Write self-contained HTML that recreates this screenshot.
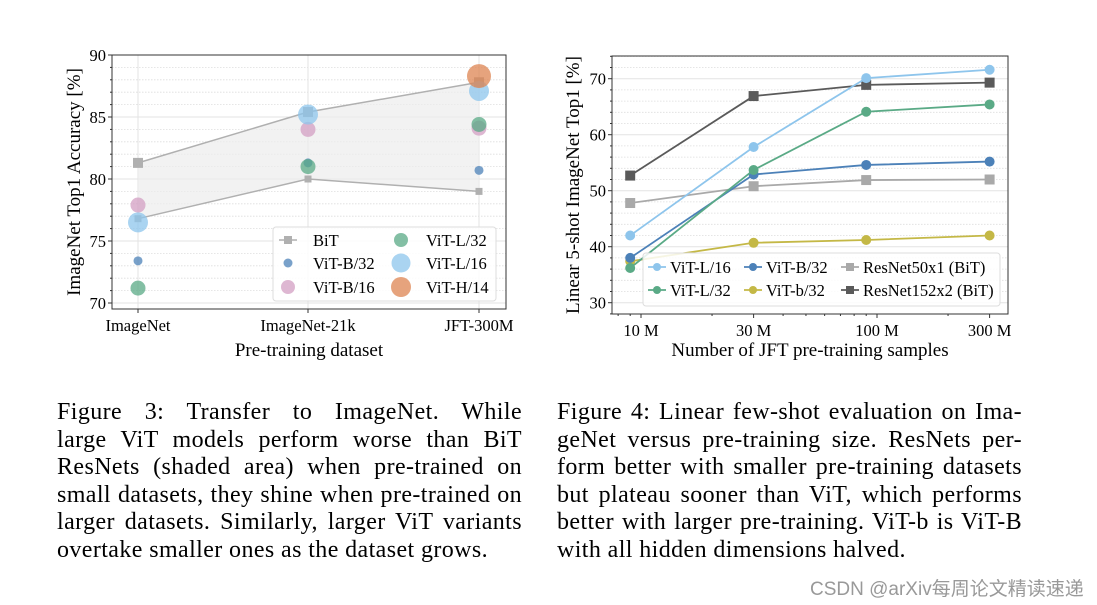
<!DOCTYPE html>
<html><head><meta charset="utf-8"><style>
body{margin:0;background:#fff;width:1097px;height:605px;overflow:hidden;position:relative;font-family:"Liberation Serif",serif}
.cap{position:absolute;font-size:24px;letter-spacing:0.4px;line-height:27.5px;color:#000}
.cap div{text-align:justify;text-align-last:justify;white-space:nowrap;height:27.5px}
.cap div.last{text-align-last:left}
#wm{position:absolute;left:810px;top:574px;font:19px "Liberation Sans","Noto Sans CJK SC",sans-serif;color:#999;white-space:nowrap}
</style></head><body>
<svg id="svg" width="1097" height="390" style="position:absolute;left:0;top:0" font-family="Liberation Serif, serif"></svg>

<div class="cap" style="left:57px;top:399px;width:465px">
<div>Figure 3:  Transfer to ImageNet.  While</div>
<div>large ViT models perform worse than BiT</div>
<div>ResNets (shaded area) when pre-trained on</div>
<div>small datasets, they shine when pre-trained on</div>
<div>larger datasets.  Similarly, larger ViT variants</div>
<div class="last">overtake smaller ones as the dataset grows.</div>
</div>
<div class="cap" style="left:557px;top:399px;width:465px">
<div>Figure 4: Linear few-shot evaluation on Ima-</div>
<div>geNet versus pre-training size.  ResNets per-</div>
<div>form better with smaller pre-training datasets</div>
<div>but plateau sooner than ViT, which performs</div>
<div>better with larger pre-training. ViT-b is ViT-B</div>
<div class="last">with all hidden dimensions halved.</div>
</div>
<div id="wm">CSDN @arXiv每周论文精读速递</div>

<script>
// ---- Chart 1 data ----
const c1Categories = ["ImageNet","ImageNet-21k","JFT-300M"];
const c1BitUpper = [81.3, 85.4, 87.8];
const c1BitLower = [76.8, 80.0, 79.0];
const c1VitB32 = [73.4, 81.3, 80.7];
const c1VitB16 = [77.9, 84.0, 84.1];
const c1VitL32 = [71.2, 81.0, 84.4];
const c1VitL16 = [76.5, 85.2, 87.1];
const c1VitH14 = [null, null, 88.3];
const c1YTicks = [70, 75, 80, 85, 90];
// ---- Chart 2 data ----
const c2Samples = [9, 30, 90, 300];
const c2XTicks = [10, 30, 100, 300];
const c2XTickLabels = ["10 M","30 M","100 M","300 M"];
const c2YTicks = [30, 40, 50, 60, 70];
const c2VitL16 = [42.0, 57.8, 70.1, 71.6];
const c2VitL32 = [36.2, 53.7, 64.1, 65.4];
const c2VitB32 = [38.0, 52.9, 54.6, 55.2];
const c2Vitb32 = [37.4, 40.7, 41.2, 42.0];
const c2R50 = [47.8, 50.8, 51.9, 52.0];
const c2R152 = [52.7, 66.9, 68.9, 69.3];

const NS="http://www.w3.org/2000/svg";
const svg=document.getElementById('svg');
function mk(tag,attrs,parent,text){const e=document.createElementNS(NS,tag);for(const k in attrs)e.setAttribute(k,attrs[k]);if(text!==undefined)e.textContent=text;(parent||svg).appendChild(e);return e;}
const TF=16.5, AF=19, LF=16.5;

// ===== Chart 1 =====
const g1=mk('g',{});


const L1=112,R1=506,T1=55,B1=309;
const y1=v=>55+(90-v)*12.4;
const x1=i=>[138,308,479][i];
for(let v=70;v<=90;v++){if(v%5)mk('line',{x1:L1,x2:R1,y1:y1(v),y2:y1(v),stroke:'#ddd','stroke-width':0.8,'stroke-dasharray':'1.5,1.5'},g1);}
c1YTicks.forEach(v=>{mk('line',{x1:L1,x2:R1,y1:y1(v),y2:y1(v),stroke:'#e3e3e3','stroke-width':1},g1);});
c1Categories.forEach((c,i)=>mk('line',{x1:x1(i),x2:x1(i),y1:T1,y2:B1,stroke:'#e3e3e3'},g1));
let pts=c1BitUpper.map((v,i)=>x1(i)+','+y1(v)).concat(c1BitLower.map((v,i)=>x1(i)+','+y1(v)).reverse());
const sh=mk('polygon',{points:pts.join(' '),fill:'#ececec','fill-opacity':0.7},g1);


[c1BitUpper,c1BitLower].forEach((arr,k)=>{
  const pl=mk('polyline',{points:arr.map((v,i)=>x1(i)+','+y1(v)).join(' '),fill:'none',stroke:'#b0b0b0','stroke-width':1.5},g1);
  
  
  arr.forEach((v,i)=>{const s=k?3.5:5;mk('rect',{x:x1(i)-s,y:y1(v)-s,width:2*s,height:2*s,fill:'#b0b0b0'},g1);});
});
const c1Series=[[c1VitB32,'#4c81b8',4.5,'vit-b32'],[c1VitB16,'#d39fc3',7.5,'vit-b16'],[c1VitL32,'#5aaa86',7.5,'vit-l32'],[c1VitL16,'#8ec5ec',10,'vit-l16'],[c1VitH14,'#dd8452',12,'vit-h14']];
c1Series.forEach(([arr,col,r,nm])=>arr.forEach((v,i)=>{if(v==null)return;const c=mk('circle',{cx:x1(i),cy:y1(v),r:r,fill:col,'fill-opacity':0.75},g1);
  
  }));
mk('rect',{x:L1,y:T1,width:R1-L1,height:B1-T1,fill:'none',stroke:'#333','stroke-width':1},g1);
c1YTicks.forEach(v=>{mk('line',{x1:L1-4,x2:L1,y1:y1(v),y2:y1(v),stroke:'#333'},g1);mk('text',{x:L1-6,y:y1(v)+6,'text-anchor':'end','font-size':TF},g1,v);});
for(let v=70;v<=90;v++){if(v%5)mk('line',{x1:L1-2,x2:L1,y1:y1(v),y2:y1(v),stroke:'#333'},g1);}
c1Categories.forEach((c,i)=>{mk('line',{x1:x1(i),x2:x1(i),y1:B1,y2:B1+4,stroke:'#333'},g1);mk('text',{x:x1(i),y:B1+22,'text-anchor':'middle','font-size':TF},g1,c);});
mk('text',{x:309,y:356,'text-anchor':'middle','font-size':AF},g1,'Pre-training dataset');
mk('text',{transform:'translate(80,182) rotate(-90)','text-anchor':'middle','font-size':AF},g1,'ImageNet Top1 Accuracy [%]');
const lg1=mk('g',{},g1);


mk('rect',{x:273,y:227,width:223,height:74,rx:3,fill:'#fff','fill-opacity':0.85,stroke:'#ddd'},lg1);
mk('line',{x1:279,x2:297,y1:240,y2:240,stroke:'#b0b0b0','stroke-width':1.5},lg1);
mk('rect',{x:284,y:236,width:8,height:8,fill:'#b0b0b0'},lg1);
mk('text',{x:313,y:246,'font-size':LF},lg1,'BiT');
const lgItems=[[292,263,4.5,'#4c81b8','ViT-B/32'],[292,287,7,'#d39fc3','ViT-B/16'],[405,240,7,'#5aaa86','ViT-L/32'],[405,263,9.5,'#8ec5ec','ViT-L/16'],[405,287,10,'#dd8452','ViT-H/14']];
lgItems.forEach(([cx,cy,r,col,t])=>{mk('circle',{cx:cx-4,cy:cy,r:r,fill:col,'fill-opacity':0.75},lg1);mk('text',{x:cx+21,y:cy+6,'font-size':LF},lg1,t);});

// ===== Chart 2 =====
const g2=mk('g',{});


const L2=612,R2=1008,T2=56,B2=314;
const x2=v=>641+236*Math.log10(v/10);
const y2=v=>78.7+(70-v)*5.6;
for(let v=28;v<=74;v+=2){if(v%10)mk('line',{x1:L2,x2:R2,y1:y2(v),y2:y2(v),stroke:'#ddd','stroke-width':0.8,'stroke-dasharray':'1.5,1.5'},g2);}
c2YTicks.forEach(v=>mk('line',{x1:L2,x2:R2,y1:y2(v),y2:y2(v),stroke:'#e3e3e3'},g2));
const c2Series=[[c2R50,'#a9a9a9','sq','resnet50x1'],[c2R152,'#5a5a5a','sq','resnet152x2'],[c2Vitb32,'#c4b846','c','vit-b-small-32'],[c2VitB32,'#4c81b8','c','vit-b32'],[c2VitL32,'#5aaa86','c','vit-l32'],[c2VitL16,'#8ec5ec','c','vit-l16']];
c2Series.forEach(([arr,col,m,nm])=>{
  const pl=mk('polyline',{points:arr.map((v,i)=>x2(c2Samples[i])+','+y2(v)).join(' '),fill:'none',stroke:col,'stroke-width':1.8},g2);
  
  
  arr.forEach((v,i)=>{const cx=x2(c2Samples[i]),cy=y2(v);
    if(m=='sq')mk('rect',{x:cx-5,y:cy-5,width:10,height:10,fill:col},g2);else mk('circle',{cx:cx,cy:cy,r:5,fill:col},g2);});
});
mk('rect',{x:L2,y:T2,width:R2-L2,height:B2-T2,fill:'none',stroke:'#333'},g2);
c2YTicks.forEach(v=>{mk('line',{x1:L2-4,x2:L2,y1:y2(v),y2:y2(v),stroke:'#333'},g2);mk('text',{x:L2-6,y:y2(v)+6,'text-anchor':'end','font-size':TF},g2,v);});
for(let v=28;v<=74;v+=2){if(v%10)mk('line',{x1:L2-2,x2:L2,y1:y2(v),y2:y2(v),stroke:'#333'},g2);}
c2XTicks.forEach((v,i)=>{mk('line',{x1:x2(v),x2:x2(v),y1:B2,y2:B2+4,stroke:'#333'},g2);mk('text',{x:x2(v),y:B2+22,'text-anchor':'middle','font-size':TF},g2,c2XTickLabels[i]);});
[8,9,20,40,50,60,70,80,90,200].forEach(v=>mk('line',{x1:x2(v),x2:x2(v),y1:B2,y2:B2+2,stroke:'#333'},g2));
mk('text',{x:810,y:356,'text-anchor':'middle','font-size':AF},g2,'Number of JFT pre-training samples');
mk('text',{transform:'translate(579,185) rotate(-90)','text-anchor':'middle','font-size':AF},g2,'Linear 5-shot ImageNet Top1 [%]');
const lg2=mk('g',{},g2);


mk('rect',{x:643,y:253,width:357,height:53,rx:3,fill:'#fff','fill-opacity':0.85,stroke:'#ddd'},lg2);
const lg2Items=[[648,267,'#8ec5ec','c','ViT-L/16'],[648,290,'#5aaa86','c','ViT-L/32'],[744,267,'#4c81b8','c','ViT-B/32'],[744,290,'#c4b846','c','ViT-b/32'],[841,267,'#a9a9a9','sq','ResNet50x1 (BiT)'],[841,290,'#5a5a5a','sq','ResNet152x2 (BiT)']];
lg2Items.forEach(([x,y,col,m,t])=>{mk('line',{x1:x,x2:x+18,y1:y,y2:y,stroke:col,'stroke-width':1.8},lg2);
  if(m=='sq')mk('rect',{x:x+5,y:y-4,width:8,height:8,fill:col},lg2);else mk('circle',{cx:x+9,cy:y,r:4,fill:col},lg2);
  mk('text',{x:x+22,y:y+6,'font-size':LF},lg2,t);});
</script>
</body></html>
